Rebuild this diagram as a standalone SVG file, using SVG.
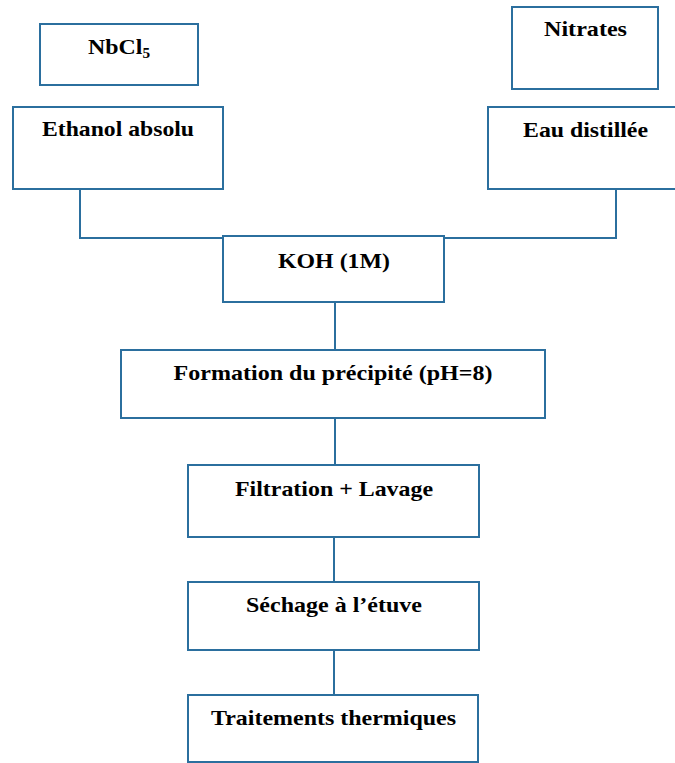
<svg xmlns="http://www.w3.org/2000/svg" width="675" height="763" viewBox="0 0 675 763">
<style>
.box{fill:#ffffff;stroke:#2b6f9e;stroke-width:2}
.con{fill:none;stroke:#2b6f9e;stroke-width:2}
.t{font-family:'Liberation Serif','DejaVu Serif','Noto Serif',serif;font-weight:bold;font-size:22px;fill:#000000;text-anchor:middle}
</style>
<rect width="675" height="763" fill="#ffffff"/>
<g id="connectors">
<polyline class="con" points="80,189 80,238 616,238 616,189"/>
<line class="con" x1="335" y1="302" x2="335" y2="349"/>
<line class="con" x1="335" y1="418" x2="335" y2="464"/>
<line class="con" x1="334" y1="537" x2="334" y2="581"/>
<line class="con" x1="334" y1="650" x2="334" y2="694"/>
</g>
<g id="nbcl5">
<rect class="box" x="40" y="24" width="158" height="61"/>
<text class="t" x="119" y="54" textLength="62" lengthAdjust="spacingAndGlyphs">NbCl<tspan font-size="14px" dy="4">5</tspan></text>
</g>
<g id="ethanol">
<rect class="box" x="13" y="107" width="210" height="82"/>
<text class="t" x="118" y="136" textLength="152" lengthAdjust="spacingAndGlyphs">Ethanol absolu</text>
</g>
<g id="nitrates">
<rect class="box" x="512" y="7" width="146" height="82"/>
<text class="t" x="585.5" y="36" textLength="83" lengthAdjust="spacingAndGlyphs">Nitrates</text>
</g>
<g id="eau">
<rect class="box" x="488" y="107" width="196" height="82"/>
<text class="t" x="585.5" y="137" textLength="125" lengthAdjust="spacingAndGlyphs">Eau distillée</text>
</g>
<g id="koh">
<rect class="box" x="223" y="236" width="221" height="66"/>
<text class="t" x="334" y="268" textLength="112" lengthAdjust="spacingAndGlyphs">KOH (1M)</text>
</g>
<g id="formation">
<rect class="box" x="121" y="350" width="424" height="68"/>
<text class="t" x="333" y="380" textLength="319" lengthAdjust="spacingAndGlyphs">Formation du précipité (pH=8)</text>
</g>
<g id="filtration">
<rect class="box" x="188" y="465" width="291" height="72"/>
<text class="t" x="334" y="496" textLength="198" lengthAdjust="spacingAndGlyphs">Filtration + Lavage</text>
</g>
<g id="sechage">
<rect class="box" x="188" y="582" width="291" height="68"/>
<text class="t" x="334" y="612" textLength="176" lengthAdjust="spacingAndGlyphs">Séchage à l’étuve</text>
</g>
<g id="traitements">
<rect class="box" x="188" y="695" width="290" height="67"/>
<text class="t" x="333.5" y="725" textLength="245" lengthAdjust="spacingAndGlyphs">Traitements thermiques</text>
</g>
</svg>
